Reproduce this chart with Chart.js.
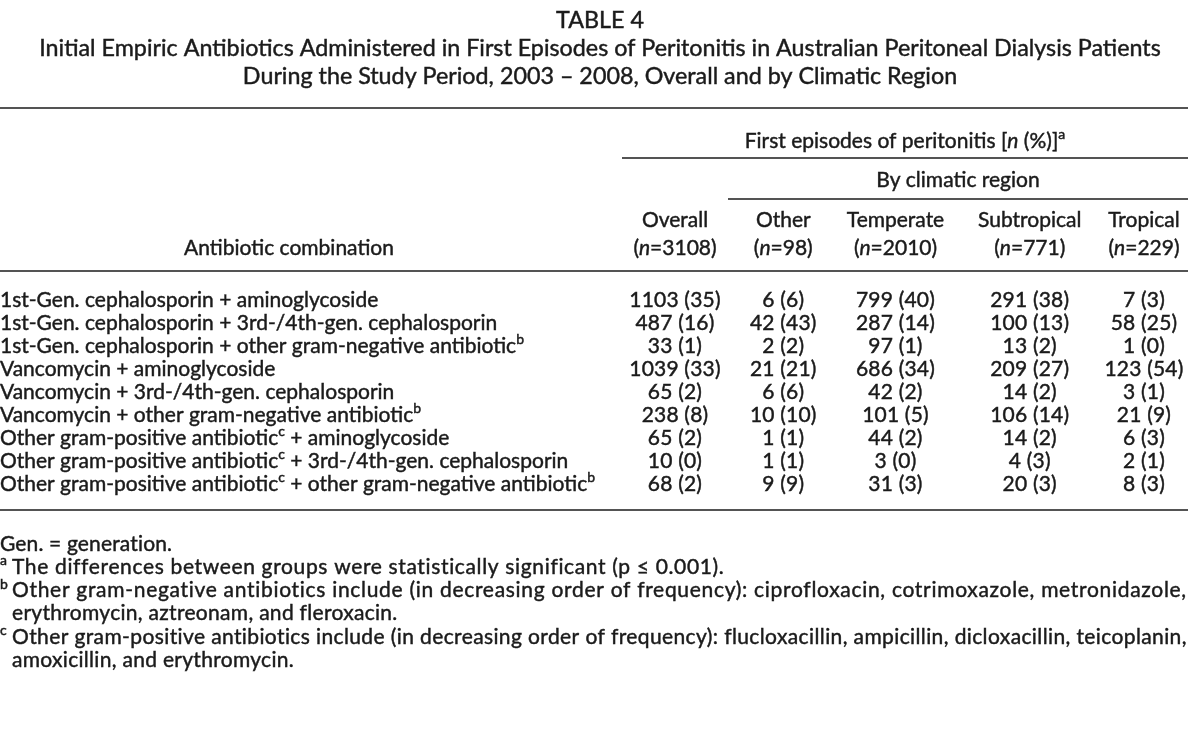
<!DOCTYPE html>
<html>
<head>
<meta charset="utf-8">
<script src="https://cdn.jsdelivr.net/npm/chart.js@4.4.1/dist/chart.umd.min.js"></script>
<style>
  html, body { margin: 0; padding: 0; background: #fff; }
  canvas { display: block; }
</style>
</head>
<body>
<canvas id="tableChart" width="1200" height="746"></canvas>
<script>
// rows of the table (^{x} = superscript, *x* = italic)
const categories = [
  "1st-Gen. cephalosporin + aminoglycoside",
  "1st-Gen. cephalosporin + 3rd-/4th-gen. cephalosporin",
  "1st-Gen. cephalosporin + other gram-negative antibiotic^{b}",
  "Vancomycin + aminoglycoside",
  "Vancomycin + 3rd-/4th-gen. cephalosporin",
  "Vancomycin + other gram-negative antibiotic^{b}",
  "Other gram-positive antibiotic^{c} + aminoglycoside",
  "Other gram-positive antibiotic^{c} + 3rd-/4th-gen. cephalosporin",
  "Other gram-positive antibiotic^{c} + other gram-negative antibiotic^{b}"
];

const columns = ["Overall", "Other", "Temperate", "Subtropical", "Tropical"];
const columnN = [3108, 98, 2010, 771, 229];

const overallN = [1103, 487, 33, 1039, 65, 238, 65, 10, 68];
const overallPct = [35, 16, 1, 33, 2, 8, 2, 0, 2];
const otherN = [6, 42, 2, 21, 6, 10, 1, 1, 9];
const otherPct = [6, 43, 2, 21, 6, 10, 1, 1, 9];
const temperateN = [799, 287, 97, 686, 42, 101, 44, 3, 31];
const temperatePct = [40, 14, 1, 34, 2, 5, 2, 0, 3];
const subtropicalN = [291, 100, 13, 209, 14, 106, 14, 4, 20];
const subtropicalPct = [38, 13, 2, 27, 2, 14, 2, 3, 3];
const tropicalN = [7, 58, 1, 123, 3, 21, 6, 2, 8];
const tropicalPct = [3, 25, 0, 54, 1, 9, 3, 1, 3];

const titleLines = [
  "TABLE 4",
  "Initial Empiric Antibiotics Administered in First Episodes of Peritonitis in Australian Peritoneal Dialysis Patients",
  "During the Study Period, 2003 \u2013 2008, Overall and by Climatic Region"
];

// [marker, text, justify to right edge]
const footnotes = [
  ["", "Gen. = generation.", false],
  ["a", "The differences between groups were statistically significant (p \u2264 0.001).", false],
  ["b", "Other gram-negative antibiotics include (in decreasing order of frequency): ciprofloxacin, cotrimoxazole, metronidazole,", true],
  ["", "erythromycin, aztreonam, and fleroxacin.", false],
  ["c", "Other gram-positive antibiotics include (in decreasing order of frequency): flucloxacillin, ampicillin, dicloxacillin, teicoplanin,", true],
  ["", "amoxicillin, and erythromycin.", false]
];

const nByCol = [overallN, otherN, temperateN, subtropicalN, tropicalN];
const pctByCol = [overallPct, otherPct, temperatePct, subtropicalPct, tropicalPct];

// layout
const FONT = "Lato";
const SIZE = 21;
const TITLE_SIZE = 23.3;
const INK = "#1b1b1b";
const RIGHT = 1188;
const colNudge = [0, -9, -14, 3, 0];

function parseRich(s) {
  const parts = [];
  const re = /(\^\{[^}]*\}|\*[^*]*\*)/g;
  let last = 0, m;
  while ((m = re.exec(s)) !== null) {
    if (m.index > last) parts.push({ t: s.slice(last, m.index) });
    if (m[0][0] === "^") parts.push({ t: m[0].slice(2, -1), sup: true });
    else parts.push({ t: m[0].slice(1, -1), it: true });
    last = m.index + m[0].length;
  }
  if (last < s.length) parts.push({ t: s.slice(last) });
  return parts;
}

function fontFor(p, size) {
  const sz = p.sup ? Math.round(size * 0.66) : size;
  return (p.it ? "italic " : "") + sz + "px " + FONT;
}

function drawRich(ctx, s, x, y, align, size, spacing) {
  const parts = parseRich(s);
  const sp = spacing || 0;
  let w = 0;
  ctx.letterSpacing = "0px";
  parts.forEach(p => {
    ctx.font = fontFor(p, size);
    p.w = ctx.measureText(p.t).width + sp * p.t.length;
    w += p.w;
  });
  let cx = align === "center" ? x - w / 2 : align === "right" ? x - w : x;
  ctx.textAlign = "left";
  ctx.textBaseline = "middle";
  ctx.letterSpacing = sp + "px";
  parts.forEach(p => {
    ctx.font = fontFor(p, size);
    const py = p.sup ? y - size * 0.3 : y;
    ctx.fillText(p.t, cx, py);
    ctx.strokeText(p.t, cx, py);
    cx += p.w;
  });
  ctx.letterSpacing = "0px";
}

function naturalWidth(ctx, s, size) {
  ctx.letterSpacing = "0px";
  ctx.font = size + "px " + FONT;
  return ctx.measureText(s).width;
}

function rule(ctx, x1, x2, y) {
  ctx.save();
  ctx.lineWidth = 1.5;
  ctx.beginPath();
  ctx.moveTo(x1, y);
  ctx.lineTo(x2, y);
  ctx.stroke();
  ctx.restore();
}

const tablePlugin = {
  id: "tablePlugin",
  afterDatasetsDraw(chart) {
    const ctx = chart.ctx;
    ctx.save();
    ctx.fillStyle = INK;
    ctx.strokeStyle = INK;
    ctx.lineWidth = 0.45;

    // title
    drawRich(ctx, titleLines[0], 600, 20, "center", TITLE_SIZE);
    drawRich(ctx, titleLines[1], 600, 48, "center", TITLE_SIZE);
    drawRich(ctx, titleLines[2], 600, 76, "center", TITLE_SIZE);

    rule(ctx, 0, RIGHT, 108);

    // spanning headers
    drawRich(ctx, "First episodes of peritonitis [*n* (%)]^{a}", 905, 141, "center", SIZE);
    rule(ctx, 622, RIGHT, 158);
    drawRich(ctx, "By climatic region", 958, 180, "center", SIZE);
    rule(ctx, 728, RIGHT, 199);

    const xs = columns.map((c, j) => chart.getDatasetMeta(j).data[0].x + colNudge[j]);
    columns.forEach((c, j) => {
      drawRich(ctx, c, xs[j], 220, "center", SIZE);
      drawRich(ctx, "(*n*=" + columnN[j] + ")", xs[j], 248, "center", SIZE);
    });
    drawRich(ctx, "Antibiotic combination", 289, 248, "center", SIZE);

    rule(ctx, 0, RIGHT, 271);

    // row labels at the y-scale positions
    const yScale = chart.scales.y;
    categories.forEach((r, i) => {
      drawRich(ctx, r, 0, yScale.getPixelForValue(i), "left", SIZE);
    });

    // cells, placed on the points of each column dataset
    chart.data.datasets.forEach((ds, j) => {
      chart.getDatasetMeta(j).data.forEach((pt, i) => {
        drawRich(ctx, ds.n[i] + " (" + ds.pct[i] + ")", pt.x + colNudge[j], pt.y, "center", SIZE, 0.2);
      });
    });

    rule(ctx, 0, RIGHT, 510);

    // footnotes
    footnotes.forEach((f, k) => {
      const y = 544 + k * 23.2;
      if (k === 0) {
        drawRich(ctx, f[1], 0, y, "left", SIZE, 0.15);
        return;
      }
      if (f[0]) drawRich(ctx, "^{" + f[0] + "}", 0, y, "left", SIZE);
      let sp = k === 1 ? 0.65 : 0.3;
      if (f[2]) {
        const nat = naturalWidth(ctx, f[1], SIZE);
        sp = (RIGHT - 12 - nat) / f[1].length;
      }
      drawRich(ctx, f[1], 12, y, "left", SIZE, sp);
    });

    ctx.restore();
  }
};

new Chart(document.getElementById("tableChart"), {
  type: "line",
  data: {
    datasets: columns.map((c, j) => ({
      label: c,
      data: categories.map(r => ({ x: c, y: r })),
      n: nByCol[j],
      pct: pctByCol[j],
      showLine: false,
      pointRadius: 0,
      pointHoverRadius: 0
    }))
  },
  options: {
    responsive: false,
    animation: false,
    events: [],
    layout: { padding: { left: 675, right: 56, top: 300, bottom: 262 } },
    plugins: { legend: { display: false }, tooltip: { enabled: false } },
    scales: {
      x: { type: "category", labels: columns, offset: false, display: false },
      y: { type: "category", labels: categories, offset: false, display: false }
    }
  },
  plugins: [tablePlugin]
});
</script>
</body>
</html>
